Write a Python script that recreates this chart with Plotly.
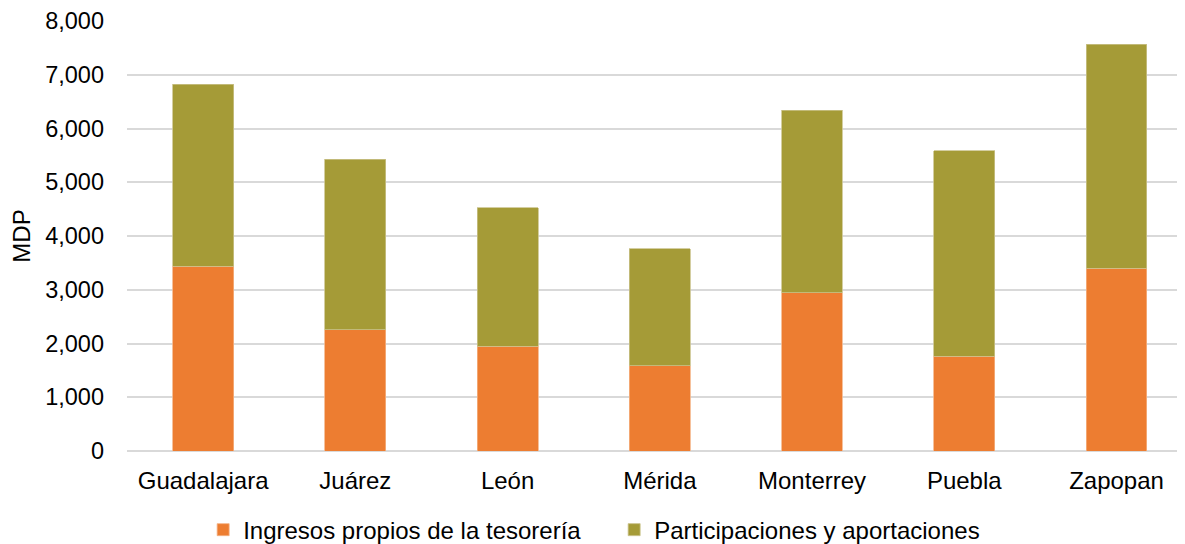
import plotly.graph_objects as go

cities = ["Guadalajara", "Juárez", "León", "Mérida", "Monterrey", "Puebla", "Zapopan"]
ingresos_propios = [3440, 2260, 1950, 1590, 2940, 1760, 3400]
totales = [6820, 5430, 4530, 3760, 6340, 5590, 7570]
participaciones = [t - p for t, p in zip(totales, ingresos_propios)]
y_ticks = [0, 1000, 2000, 3000, 4000, 5000, 6000, 7000, 8000]

font = "Liberation Sans, Arial, sans-serif"

fig = go.Figure()
fig.add_trace(go.Bar(
    x=cities, y=ingresos_propios, name="Ingresos propios de la tesorería",
    marker=dict(color="#ED7D31", line=dict(color="#F4B183", width=0.8)),
))
fig.add_trace(go.Bar(
    x=cities, y=participaciones, name="Participaciones y aportaciones",
    marker=dict(color="#A59B37", line=dict(color="#C9C28A", width=0.8)),
))

fig.update_layout(
    barmode="stack",
    bargap=0.6,
    width=1177, height=536,
    margin=dict(l=119, r=0, t=13, b=93),
    paper_bgcolor="white", plot_bgcolor="white",
    font=dict(family=font, size=22, color="#000000"),
    legend=dict(orientation="h", xref="container", x=0.515, xanchor="center",
                yref="container", y=0.026, yanchor="middle",
                font=dict(size=24, color="#000000"), traceorder="normal",
                itemwidth=30, entrywidth=366),
    showlegend=True,
)
fig.update_xaxes(
    range=[-0.5, 6.45], showgrid=False, showline=False, zeroline=False,
    ticks="", tickfont=dict(size=24, color="#000000"), ticklabelstandoff=13,
)
fig.update_yaxes(
    range=[0, 8000], tickvals=y_ticks, tickformat=",d",
    showgrid=True, gridcolor="#D9D9D9", gridwidth=1.5,
    zeroline=True, zerolinecolor="#D9D9D9", zerolinewidth=1.5,
    showline=False, ticks="", ticklabelstandoff=22,
    tickfont=dict(size=23.5, color="#000000"),
    title=dict(text="MDP", font=dict(size=24, color="#000000"), standoff=16),
)

fig.write_html("out.html")
